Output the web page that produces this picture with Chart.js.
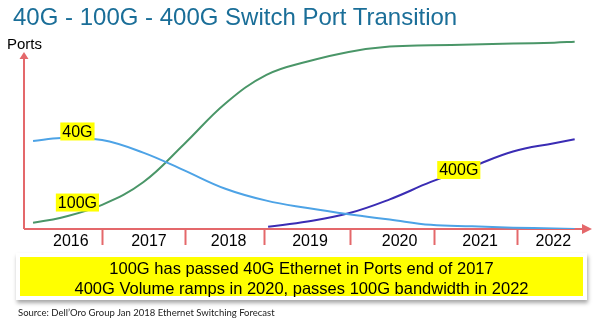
<!DOCTYPE html>
<html>
<head>
<meta charset="utf-8">
<script src="https://cdn.jsdelivr.net/npm/chart.js@4.4.1/dist/chart.umd.min.js"></script>
<style>
  body { margin: 0; background: #fff; }
  #wrap { position: relative; width: 600px; height: 323px; font-family: "Liberation Sans", Arial, sans-serif; overflow: hidden; }
  #chart { position: absolute; left: 0; top: 0; }
  .title { position: absolute; left: 13px; top: 5px; font-size: 24px; line-height: 24px; color: #1a6e98; white-space: nowrap; }
  .ports { position: absolute; left: 7px; top: 36px; font-size: 15px; line-height: 15px; color: #000; }
  .note { position: absolute; left: 16px; top: 253px; width: 571px; height: 47px; box-sizing: border-box;
          background: #ffff00; border: 4px solid #fff; box-shadow: 1px 3px 4px rgba(0,0,0,.35);
          text-align: center; font-size: 16.5px; line-height: 20px; padding-top: 1px; color: #000; white-space: nowrap; }
  .source { position: absolute; left: 18px; top: 308px; font-family: Lato, sans-serif; font-size: 9.5px; line-height: 10px; color: #222; white-space: nowrap; }
</style>
</head>
<body>
<div id="wrap">
  <canvas id="chart" width="600" height="323"></canvas>
  <div class="title">40G - 100G - 400G Switch Port Transition</div>
  <div class="ports">Ports</div>
  <div class="note">100G has passed 40G Ethernet in Ports end of 2017<br>400G Volume ramps in 2020, passes 100G bandwidth in 2022</div>
  <div class="source">Source: Dell’Oro Group Jan 2018 Ethernet Switching Forecast</div>
</div>
<script>
// years along the x axis, roughly one unit per year (0 = start of 2016)
const years = ['2016', '2017', '2018', '2019', '2020', '2021', '2022'];
const yearMid = [0.62, 1.57, 2.54, 3.53, 4.62, 5.6, 6.49];
const yearEdge = [1.0, 2.02, 2.98, 4.02, 5.05, 6.06];

// relative port volume (0-100), every half year
const xAll = [0.16, 0.5, 1.0, 1.5, 2.0, 2.5, 3.0, 3.5, 4.0, 4.5, 5.0, 5.5, 6.0, 6.5, 6.75];
const y100G = [3.3, 6.0, 12.8, 24.7, 45.0, 66.4, 81.5, 88.6, 93.7, 96.5, 97.2, 97.6, 98.1, 98.6, 99.1];
const y40G = [46.6, 48.1, 47.1, 40.4, 31.0, 21.3, 15.0, 11.1, 7.8, 5.0, 2.2, 1.4, 0.7, 0.3, 0.0];

const x400G = [3.02, 3.5, 4.0, 4.5, 5.0, 5.5, 6.0, 6.5, 6.75];
const y400G = [1.2, 4.0, 8.3, 15.7, 24.9, 32.9, 41.0, 45.4, 47.5];

const red = '#e4686b';

const pts = (xs, ys) => xs.map((x, i) => ({ x: x, y: ys[i] }));

// series name tags, anchored in data units
const tags = [
  { text: '40G', x: 0.70, y: 51.6 },
  { text: '100G', x: 0.70, y: 14.0 },
  { text: '400G', x: 5.34, y: 31.2 }
];

const axisArrows = {
  id: 'axisArrows',
  beforeDatasetsDraw(chart) {
    const { ctx, chartArea: a } = chart;
    ctx.save();
    ctx.strokeStyle = red;
    ctx.fillStyle = red;
    ctx.lineWidth = 2;
    ctx.beginPath();
    ctx.moveTo(a.left, a.bottom);
    ctx.lineTo(a.right - 5, a.bottom);
    ctx.moveTo(a.left, a.bottom);
    ctx.lineTo(a.left, a.top + 19);
    ctx.stroke();
    // arrow heads
    ctx.beginPath();
    ctx.moveTo(a.right - 5, a.bottom - 5);
    ctx.lineTo(a.right + 5, a.bottom);
    ctx.lineTo(a.right - 5, a.bottom + 5);
    ctx.fill();
    ctx.beginPath();
    ctx.moveTo(a.left - 4.5, a.top + 19);
    ctx.lineTo(a.left, a.top + 12);
    ctx.lineTo(a.left + 4.5, a.top + 19);
    ctx.fill();
    ctx.restore();
  },
  afterDatasetsDraw(chart) {
    const { ctx, scales } = chart;
    ctx.save();
    ctx.font = '16px "Liberation Sans", Arial, sans-serif';
    ctx.textAlign = 'center';
    ctx.textBaseline = 'middle';
    tags.forEach(t => {
      const px = scales.x.getPixelForValue(t.x);
      const py = scales.y.getPixelForValue(t.y);
      const w = ctx.measureText(t.text).width + 4;
      ctx.fillStyle = '#ffff00';
      ctx.fillRect(px - w / 2, py - 9, w, 18);
      ctx.fillStyle = '#000';
      ctx.fillText(t.text, px, py + 1);
    });
    ctx.restore();
  }
};

const line = (data, color) => ({
  data: data,
  borderColor: color,
  borderWidth: 2,
  pointRadius: 0,
  tension: 0.4,
  fill: false
});

new Chart(document.getElementById('chart'), {
  type: 'line',
  data: {
    datasets: [
      line(pts(xAll, y40G), '#4da3e6'),
      line(pts(xAll, y100G), '#4a9668'),
      line(pts(x400G, y400G), '#3a2cb4')
    ]
  },
  plugins: [axisArrows],
  options: {
    responsive: false,
    animation: false,
    layout: { padding: { left: 24, right: 13, top: 40, bottom: 64 } },
    plugins: { legend: { display: false }, tooltip: { enabled: false } },
    scales: {
      x: {
        type: 'linear',
        min: 0.05,
        max: 6.9,
        border: { display: false },
        grid: {
          drawOnChartArea: false,
          drawTicks: true,
          tickLength: 16,
          tickWidth: 2,
          tickColor: c => yearEdge.includes(c.tick.value) ? red : 'rgba(0,0,0,0)'
        },
        afterBuildTicks: s => {
          s.ticks = yearMid.concat(yearEdge).sort((a, b) => a - b).map(v => ({ value: v }));
        },
        afterFit: s => { s.height = 30; },
        ticks: {
          autoSkip: false,
          maxRotation: 0,
          padding: -13,
          color: '#000',
          font: { family: '"Liberation Sans", Arial, sans-serif', size: 16 },
          callback: v => {
            const i = yearMid.indexOf(v);
            return i >= 0 ? years[i] : '';
          }
        }
      },
      y: {
        display: false,
        min: 0,
        max: 100
      }
    }
  }
});
</script>
</body>
</html>
